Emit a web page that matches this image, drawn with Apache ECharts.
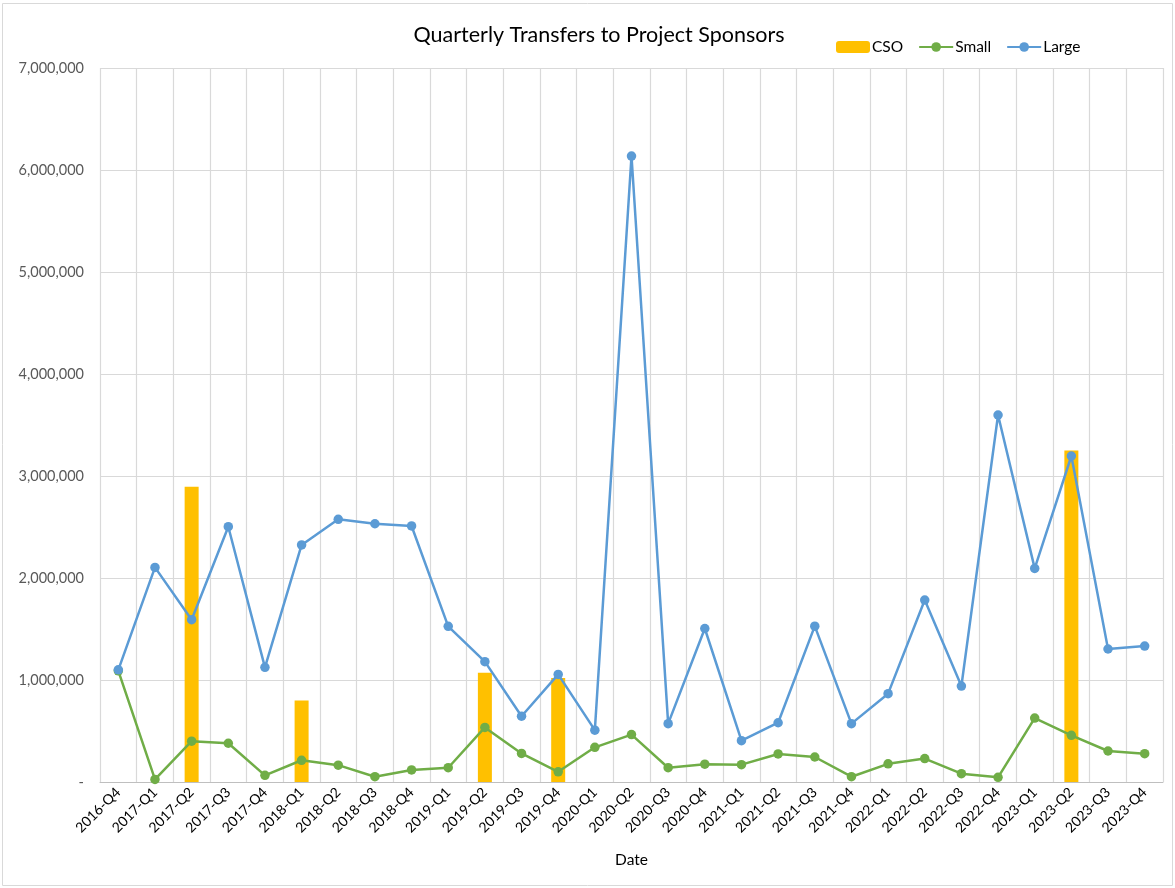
<!DOCTYPE html>
<html>
<head>
<meta charset="utf-8">
<title>Quarterly Transfers to Project Sponsors</title>
<script src="https://cdn.jsdelivr.net/npm/echarts@6/dist/echarts.min.js"></script>
<style>
  html, body { margin: 0; padding: 0; background: #fff; }
  #chart { width: 1175px; height: 888px; }
</style>
</head>
<body>
<div id="chart"></div>
<script>
// data
const quarters = [
  '2016-Q4', '2017-Q1', '2017-Q2', '2017-Q3', '2017-Q4',
  '2018-Q1', '2018-Q2', '2018-Q3', '2018-Q4',
  '2019-Q1', '2019-Q2', '2019-Q3', '2019-Q4',
  '2020-Q1', '2020-Q2', '2020-Q3', '2020-Q4',
  '2021-Q1', '2021-Q2', '2021-Q3', '2021-Q4',
  '2022-Q1', '2022-Q2', '2022-Q3', '2022-Q4',
  '2023-Q1', '2023-Q2', '2023-Q3', '2023-Q4'
]
const cso = [
  null, null, 2895000, null, null,
  800000, null, null, null,
  null, 1070000, null, 1020000,
  null, null, null, null,
  null, null, null, null,
  null, null, null, null,
  null, 3250000, null, null
]
const small = [
  1090000, 25000, 400000, 380000, 65000,
  213000, 165000, 52000, 118000,
  140000, 535000, 280000, 100000,
  340000, 465000, 140000, 175000,
  170000, 275000, 245000, 52000,
  178000, 230000, 82000, 46000,
  627000, 458000, 304000, 278000
]
const large = [
  1100000, 2104000, 1591000, 2503000, 1124000,
  2324000, 2575000, 2532000, 2510000,
  1526000, 1180000, 645000, 1055000,
  508000, 6137000, 572000, 1505000,
  405000, 581000, 1528000, 572000,
  866000, 1784000, 941000, 3598000,
  2094000, 3196000, 1304000, 1333000
]
const yTicks = { min: 0, max: 7000000, step: 1000000 }

const chart = echarts.init(document.getElementById('chart'))

const fontFamily = 'Lato, "Liberation Sans", sans-serif'
const gridColor = '#D9D9D9'
const textColor = '#595959'

chart.setOption({
  animation: false,
  textStyle: { fontFamily: fontFamily },
  title: {
    text: 'Quarterly Transfers to Project Sponsors',
    left: 594,
    textAlign: 'center',
    top: 19,
    textStyle: { fontSize: 21.5, fontWeight: 'normal', color: '#000', fontFamily: fontFamily }
  },
  legend: {
    left: 831,
    top: 34,
    itemWidth: 34,
    itemHeight: 12,
    itemGap: 15,
    textStyle: { fontSize: 15.5, color: '#000', fontFamily: fontFamily, padding: [0, 0, 0, -3] },
    data: ['CSO', 'Small', 'Large']
  },
  graphic: [{
    type: 'rect',
    shape: { x: 2.5, y: 3.5, width: 1170, height: 882 },
    style: { fill: 'none', stroke: gridColor, lineWidth: 1 },
    silent: true
  }],
  grid: { left: 100, right: 12, top: 68, bottom: 106 },
  xAxis: {
    type: 'category',
    data: quarters,
    boundaryGap: true,
    name: 'Date',
    nameLocation: 'middle',
    nameGap: 70,
    nameTextStyle: { fontSize: 15.5, color: '#000' },
    axisLine: { show: true, lineStyle: { color: '#BFBFBF' } },
    axisTick: { show: false },
    axisLabel: { rotate: 45, interval: 0, fontSize: 14, color: '#000', margin: 8 },
    splitLine: { show: true, interval: 0, lineStyle: { color: gridColor, width: 1.2 } }
  },
  yAxis: {
    type: 'value',
    min: yTicks.min,
    max: yTicks.max,
    interval: yTicks.step,
    axisLine: { show: false },
    axisTick: { show: false },
    axisLabel: {
      fontSize: 14.5,
      color: textColor,
      margin: 16,
      formatter: function (v) {
        return v === 0 ? '-' : v.toLocaleString('en-US')
      }
    },
    splitLine: { lineStyle: { color: gridColor, width: 1.2 } }
  },
  series: [{
    name: 'CSO',
    type: 'bar',
    data: cso,
    barWidth: 14,
    itemStyle: { color: '#FFC000' }
  }, {
    name: 'Small',
    type: 'line',
    data: small,
    symbol: 'circle',
    symbolSize: 9.5,
    color: '#70AD47',
    lineStyle: { color: '#70AD47', width: 2.5 },
    itemStyle: { color: '#70AD47' }
  }, {
    name: 'Large',
    type: 'line',
    data: large,
    symbol: 'circle',
    symbolSize: 9.5,
    color: '#5B9BD5',
    lineStyle: { color: '#5B9BD5', width: 2.5 },
    itemStyle: { color: '#5B9BD5' }
  }]
})
</script>
</body>
</html>
